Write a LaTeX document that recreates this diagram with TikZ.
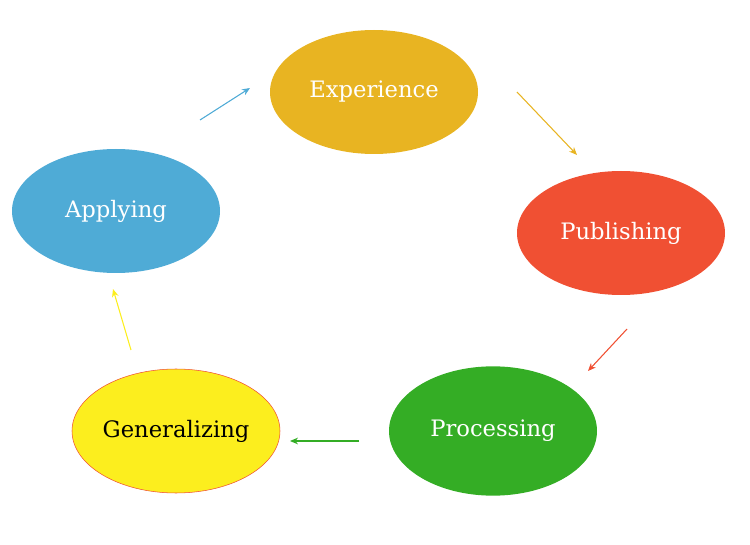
\documentclass[tikz,border=0pt]{standalone}
\usepackage{fontspec}
\setmainfont{DejaVu Serif}
\usetikzlibrary{shapes.geometric,arrows.meta}

\definecolor{expcol}{HTML}{E8B422}
\definecolor{pubcol}{HTML}{F05033}
\definecolor{procol}{HTML}{34AD25}
\definecolor{gencol}{HTML}{FCEE1E}
\definecolor{appcol}{HTML}{4FABD6}

\tikzset{
    stage/.style={ellipse, draw=none, minimum width=156pt, minimum height=93pt,
        inner sep=0pt, text=white, font=\fontsize{17}{20}\selectfont},
    cycle arrow/.style={-{Stealth[length=6pt,width=5pt]}, line width=0.8pt}
}

\begin{document}
\begin{tikzpicture}[x=0.75pt,y=-0.75pt]
        \useasboundingbox (0,0) rectangle (750,545);
            \node[stage, fill=expcol] (exp) at (374,92) {Experience};
            \node[stage, fill=pubcol] (pub) at (621,233) {Publishing};
            \node[stage, fill=procol, minimum height=97pt] (pro) at (493,431) {Processing};
            \node[stage, fill=gencol, draw=pubcol, text=black] (gen) at (176,431) {Generalizing};
            \node[stage, fill=appcol] (app) at (116,211) {Applying};
            \coordinate (a1) at (200,120);
            \coordinate (a2) at (250,88);
            \coordinate (b1) at (517,92);
            \coordinate (b2) at (577,155);
            \coordinate (c1) at (627,329);
            \coordinate (c2) at (588,371);
            \coordinate (d1) at (359,441);
            \coordinate (d2) at (290,441);
            \coordinate (e1) at (131,350);
            \coordinate (e2) at (113,289);
          \draw[cycle arrow, appcol] (a1) -- (a2);
          \draw[cycle arrow, expcol] (b1) -- (b2);
          \draw[cycle arrow, pubcol] (c1) -- (c2);
          \draw[cycle arrow, procol] (d1) -- (d2);
          \draw[cycle arrow, gencol] (e1) -- (e2);
      \end{tikzpicture}
\end{document}
